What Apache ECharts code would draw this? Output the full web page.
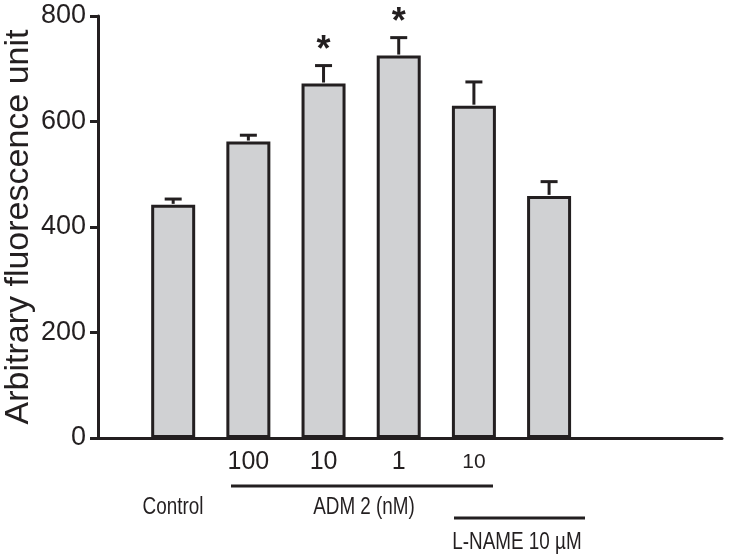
<!DOCTYPE html>
<html>
<head>
<meta charset="utf-8">
<script src="https://cdn.jsdelivr.net/npm/echarts@6/dist/echarts.min.js"></script>
<style>html,body{margin:0;padding:0;background:#fff;}#c{width:752px;height:560px;}</style>
</head>
<body>
<div id="c"></div>
<script>
// ---- data ----
const positions = [1, 2, 3, 4, 5, 6];
const means = [442, 562, 672, 725, 630, 459];
const errors = [11, 12, 34, 34, 45, 27];
const significant = [0, 0, 1, 1, 0, 0];
const tickLabels = ['', '100', '10', '1', '10', ''];
const smallLabel = [false, false, false, false, true, false];
const yTicks = [0, 200, 400, 600, 800];
const yTitle = 'Arbitrary fluorescence unit';
const groupLabels = ['Control', 'ADM 2 (nM)', 'L-NAME 10 µM'];

const ink = '#231f20';
const chart = echarts.init(document.getElementById('c'), null, {renderer: 'canvas'});

const barData = positions.map((p, i) => [p, means[i]]);
const errData = positions.map((p, i) => [p, means[i], errors[i], significant[i]]);
const narrowFont = '23px "Liberation Sans", Arial, sans-serif';

const option = {
  animation: false,
  backgroundColor: '#fff',
  grid: {left: 98, right: 30, top: 16, bottom: 122, containLabel: false, outerBoundsMode: 'none'},
  xAxis: {
    type: 'value', min: 0, max: 8.3, interval: 1,
    axisLine: {show: true, lineStyle: {color: ink, width: 3}},
    axisTick: {show: false},
    splitLine: {show: false},
    axisLabel: {
      show: true, margin: 12, color: ink, fontSize: 25, fontFamily: 'Liberation Sans, Arial, sans-serif',
      showMaxLabel: false,
      formatter: function (v) {
        const i = positions.indexOf(v);
        if (i < 0 || !tickLabels[i]) return '';
        return smallLabel[i] ? '{s|' + tickLabels[i] + '}' : tickLabels[i];
      },
      rich: {s: {fontSize: 21, fontFamily: 'Liberation Sans, Arial, sans-serif', color: ink, padding: [2, 0, 0, 0]}}
    }
  },
  yAxis: {
    type: 'value', min: yTicks[0], max: yTicks[yTicks.length - 1], interval: 200,
    name: yTitle, nameLocation: 'middle', nameRotate: 90, nameGap: 62, nameMoveOverlap: false,
    nameTextStyle: {fontSize: 34, color: ink, fontFamily: 'Liberation Sans, Arial, sans-serif'},
    axisLine: {show: true, lineStyle: {color: ink, width: 3}},
    axisTick: {show: true, length: 8, lineStyle: {color: ink, width: 3}},
    splitLine: {show: false},
    axisLabel: {margin: 12, color: ink, fontSize: 27, fontFamily: 'Liberation Sans, Arial, sans-serif'}
  },
  series: [
    {
      type: 'bar', data: barData, barWidth: 44,
      itemStyle: {color: '#d0d1d3', borderColor: ink, borderWidth: 3}
    },
    {
      type: 'custom', data: errData, z: 5, clip: false,
      renderItem: function (params, api) {
        const x = api.value(0), m = api.value(1), e = api.value(2), s = api.value(3);
        const top = api.coord([x, m]);
        const cap = api.coord([x, m + e]);
        const children = [
          {type: 'line', shape: {x1: top[0], y1: top[1] - 1, x2: cap[0], y2: cap[1]}, style: {stroke: ink, lineWidth: 3}},
          {type: 'line', shape: {x1: cap[0] - 8.5, y1: cap[1], x2: cap[0] + 8.5, y2: cap[1]}, style: {stroke: ink, lineWidth: 3}}
        ];
        if (s) {
          children.push({type: 'text', style: {text: '*', x: cap[0], y: cap[1] + 3, align: 'center', verticalAlign: 'bottom',
            font: 'bold 36px "Liberation Sans", Arial, sans-serif', fill: ink}});
        }
        return {type: 'group', children: children};
      }
    }
  ],
  graphic: [
    {type: 'line', shape: {x1: 231, y1: 486, x2: 493, y2: 486}, style: {stroke: ink, lineWidth: 3}},
    {type: 'line', shape: {x1: 454, y1: 518, x2: 585, y2: 518}, style: {stroke: ink, lineWidth: 3}},
    {type: 'text', x: 173, y: 508, scaleX: 0.82, style: {text: groupLabels[0], align: 'center', verticalAlign: 'middle', font: narrowFont, fill: ink}},
    {type: 'text', x: 364, y: 508, scaleX: 0.82, style: {text: groupLabels[1], align: 'center', verticalAlign: 'middle', font: narrowFont, fill: ink}},
    {type: 'text', x: 517, y: 543, scaleX: 0.82, style: {text: groupLabels[2], align: 'center', verticalAlign: 'middle', font: narrowFont, fill: ink}}
  ]
};
chart.setOption(option);
</script>
</body>
</html>
